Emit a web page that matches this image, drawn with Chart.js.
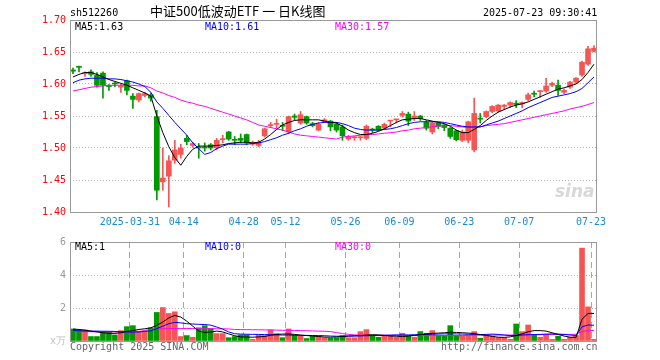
<!DOCTYPE html>
<html lang="zh">
<head>
<meta charset="utf-8">
<title>sh512260 日K线图</title>
<script src="https://cdn.jsdelivr.net/npm/chart.js@4.4.1/dist/chart.umd.min.js"></script>
<style>
  body { margin:0; background:#fff; }
  #wrap { position:relative; width:660px; height:360px; overflow:hidden; }
  canvas { position:absolute; left:0; }
  .t { position:absolute; white-space:pre; font-family:"DejaVu Sans Mono", monospace; font-size:10px; line-height:12px; }
</style>
<script>

// trading days shown
var dates = [
  '2025-03-17','2025-03-18','2025-03-19','2025-03-20','2025-03-21','2025-03-24','2025-03-25','2025-03-26','2025-03-27','2025-03-28',
  '2025-03-31','2025-04-01','2025-04-02','2025-04-03','2025-04-07','2025-04-08','2025-04-09','2025-04-10','2025-04-11','2025-04-14',
  '2025-04-15','2025-04-16','2025-04-17','2025-04-18','2025-04-21','2025-04-22','2025-04-23','2025-04-24','2025-04-25','2025-04-28',
  '2025-04-29','2025-04-30','2025-05-06','2025-05-07','2025-05-08','2025-05-09','2025-05-12','2025-05-13','2025-05-14','2025-05-15',
  '2025-05-16','2025-05-19','2025-05-20','2025-05-21','2025-05-22','2025-05-23','2025-05-26','2025-05-27','2025-05-28','2025-05-29',
  '2025-05-30','2025-06-03','2025-06-04','2025-06-05','2025-06-06','2025-06-09','2025-06-10','2025-06-11','2025-06-12','2025-06-13',
  '2025-06-16','2025-06-17','2025-06-18','2025-06-19','2025-06-20','2025-06-23','2025-06-24','2025-06-25','2025-06-26','2025-06-27',
  '2025-06-30','2025-07-01','2025-07-02','2025-07-03','2025-07-04','2025-07-07','2025-07-08','2025-07-09','2025-07-10','2025-07-11',
  '2025-07-14','2025-07-15','2025-07-16','2025-07-17','2025-07-18','2025-07-21','2025-07-22','2025-07-23'
];

var tickDates  = ['2025-03-31','2025-04-14','2025-04-28','2025-05-12','2025-05-26','2025-06-09','2025-06-23','2025-07-07','2025-07-23'];
var tickLabels = ['2025-03-31','04-14','04-28','05-12','05-26','06-09','06-23','07-07','07-23'];

var opens = [
  1.622,1.627,1.616,1.619,1.614,1.617,1.597,1.601,1.595,1.605,
  1.581,1.575,1.582,1.583,1.549,1.447,1.456,1.481,1.490,1.515,
  1.504,1.501,1.501,1.505,1.500,1.513,1.525,1.513,1.515,1.521,
  1.506,1.504,1.519,1.535,1.537,1.535,1.525,1.550,1.539,1.549,
  1.538,1.528,1.541,1.542,1.537,1.533,1.514,1.516,1.516,1.515,
  1.529,1.534,1.531,1.542,1.544,1.551,1.553,1.546,1.550,1.540,
  1.525,1.539,1.536,1.531,1.527,1.512,1.512,1.497,1.546,1.549,
  1.557,1.558,1.565,1.567,1.570,1.569,1.576,1.585,1.588,1.589,
  1.598,1.598,1.587,1.595,1.603,1.614,1.631,1.651
];
var highs = [
  1.625,1.628,1.619,1.622,1.618,1.619,1.599,1.603,1.600,1.606,
  1.585,1.586,1.587,1.586,1.559,1.500,1.488,1.512,1.506,1.520,
  1.509,1.507,1.508,1.507,1.515,1.520,1.526,1.518,1.522,1.522,
  1.511,1.512,1.531,1.540,1.545,1.540,1.550,1.553,1.557,1.550,
  1.540,1.540,1.546,1.543,1.540,1.536,1.520,1.518,1.518,1.536,
  1.531,1.535,1.539,1.543,1.545,1.557,1.556,1.557,1.551,1.543,
  1.541,1.540,1.538,1.532,1.528,1.528,1.542,1.578,1.554,1.558,
  1.566,1.568,1.568,1.572,1.574,1.572,1.586,1.589,1.590,1.609,
  1.603,1.606,1.592,1.604,1.610,1.636,1.659,1.660
];
var lows = [
  1.616,1.619,1.612,1.612,1.595,1.578,1.590,1.596,1.587,1.583,
  1.562,1.572,1.580,1.573,1.419,1.434,1.408,1.476,1.484,1.505,
  1.501,1.484,1.495,1.497,1.497,1.508,1.512,1.505,1.508,1.505,
  1.504,1.502,1.517,1.532,1.531,1.527,1.522,1.544,1.537,1.537,
  1.533,1.527,1.540,1.527,1.525,1.512,1.512,1.512,1.512,1.513,
  1.524,1.527,1.529,1.533,1.539,1.548,1.535,1.543,1.543,1.528,
  1.522,1.530,1.527,1.515,1.511,1.510,1.508,1.494,1.539,1.547,
  1.555,1.556,1.560,1.563,1.563,1.563,1.574,1.580,1.579,1.587,
  1.596,1.582,1.585,1.593,1.601,1.612,1.629,1.650
];
var closes = [
  1.620,1.626,1.617,1.615,1.598,1.598,1.596,1.600,1.596,1.590,
  1.576,1.585,1.585,1.578,1.434,1.453,1.480,1.497,1.500,1.510,
  1.507,1.500,1.500,1.500,1.512,1.514,1.514,1.512,1.512,1.508,
  1.508,1.508,1.530,1.536,1.538,1.534,1.549,1.548,1.552,1.539,
  1.535,1.537,1.544,1.533,1.528,1.519,1.518,1.517,1.517,1.534,
  1.528,1.528,1.537,1.543,1.545,1.554,1.542,1.550,1.546,1.531,
  1.539,1.534,1.532,1.518,1.513,1.525,1.541,1.554,1.545,1.557,
  1.565,1.567,1.567,1.571,1.568,1.571,1.583,1.584,1.589,1.597,
  1.601,1.590,1.590,1.603,1.609,1.634,1.655,1.656
];

// price moving averages
var ma5 = [
  1.611,1.615,1.618,1.618,1.615,1.611,1.607,1.604,1.601,1.598,
  1.594,1.590,1.586,1.581,1.550,1.524,1.502,1.485,1.473,1.487,
  1.498,1.503,1.503,1.503,1.504,1.505,1.507,1.508,1.509,1.509,
  1.508,1.509,1.514,1.521,1.529,1.536,1.540,1.543,1.544,1.544,
  1.544,1.544,1.542,1.540,1.539,1.534,1.528,1.524,1.521,1.521,
  1.523,1.526,1.530,1.535,1.540,1.544,1.545,1.546,1.546,1.544,
  1.542,1.540,1.538,1.534,1.528,1.524,1.524,1.529,1.535,1.543,
  1.550,1.556,1.560,1.564,1.567,1.569,1.572,1.576,1.580,1.584,
  1.588,1.592,1.594,1.597,1.600,1.607,1.618,1.631
];
var ma10 = [
  1.602,1.606,1.608,1.609,1.609,1.609,1.608,1.608,1.607,1.605,
  1.603,1.600,1.596,1.587,1.572,1.562,1.551,1.540,1.530,1.520,
  1.508,1.499,1.490,1.493,1.499,1.503,1.506,1.506,1.506,1.506,
  1.507,1.508,1.510,1.513,1.516,1.520,1.523,1.527,1.530,1.534,
  1.537,1.539,1.540,1.540,1.540,1.538,1.535,1.531,1.529,1.528,
  1.528,1.528,1.529,1.530,1.532,1.535,1.538,1.540,1.541,1.541,
  1.541,1.541,1.540,1.538,1.536,1.534,1.533,1.533,1.533,1.536,
  1.539,1.542,1.546,1.550,1.554,1.558,1.563,1.567,1.571,1.575,
  1.579,1.581,1.583,1.585,1.588,1.593,1.602,1.611
];
var ma30 = [
  1.589,1.591,1.593,1.595,1.596,1.597,1.598,1.598,1.598,1.598,
  1.598,1.597,1.597,1.594,1.589,1.586,1.582,1.579,1.575,1.572,
  1.570,1.567,1.565,1.562,1.559,1.556,1.553,1.550,1.547,1.544,
  1.540,1.536,1.534,1.532,1.530,1.528,1.525,1.522,1.520,1.519,
  1.518,1.517,1.516,1.515,1.514,1.517,1.518,1.519,1.520,1.521,
  1.521,1.522,1.523,1.524,1.525,1.527,1.528,1.530,1.531,1.532,
  1.533,1.534,1.535,1.535,1.534,1.533,1.532,1.532,1.533,1.535,
  1.536,1.537,1.538,1.540,1.542,1.544,1.546,1.548,1.550,1.552,
  1.554,1.556,1.558,1.561,1.563,1.565,1.568,1.571
];

// volume (x万)
var volumes = [
  0.73,0.67,0.67,0.27,0.27,0.53,0.53,0.37,0.63,0.87,
  0.93,0.60,0.60,0.80,1.73,2.03,1.67,1.77,0.27,0.33,
  0.23,0.80,0.93,0.75,0.45,0.45,0.20,0.27,0.37,0.37,
  0.10,0.37,0.33,0.67,0.45,0.20,0.73,0.37,0.30,0.15,
  0.30,0.30,0.20,0.17,0.20,0.33,0.20,0.20,0.57,0.69,
  0.33,0.23,0.33,0.33,0.23,0.47,0.33,0.23,0.57,0.47,
  0.63,0.33,0.33,0.93,0.33,0.29,0.37,0.57,0.17,0.33,
  0.29,0.20,0.20,0.10,1.03,0.57,0.97,0.37,0.23,0.37,
  0.10,0.29,0.10,0.23,0.33,5.63,2.07,0.10
];
var volMa5 = [
  0.72,0.70,0.66,0.60,0.55,0.50,0.47,0.46,0.50,0.58,
  0.63,0.70,0.74,0.80,0.95,1.15,1.40,1.55,1.45,1.20,
  0.90,0.60,0.52,0.55,0.60,0.55,0.43,0.32,0.25,0.24,
  0.23,0.25,0.27,0.35,0.40,0.42,0.43,0.40,0.36,0.33,
  0.31,0.27,0.24,0.23,0.25,0.27,0.30,0.32,0.33,0.36,
  0.38,0.37,0.34,0.30,0.29,0.27,0.30,0.34,0.38,0.42,
  0.46,0.48,0.50,0.53,0.52,0.50,0.48,0.45,0.39,0.34,
  0.28,0.23,0.22,0.25,0.33,0.43,0.56,0.63,0.63,0.60,
  0.50,0.40,0.30,0.23,0.22,1.32,1.67,1.67
];
var volMa10 = [
  0.63,0.62,0.61,0.60,0.60,0.59,0.59,0.58,0.56,0.55,
  0.54,0.55,0.58,0.62,0.75,0.90,1.05,1.13,1.10,1.05,
  1.03,1.01,1.00,0.96,0.85,0.72,0.55,0.44,0.42,0.41,
  0.40,0.40,0.39,0.38,0.37,0.36,0.36,0.35,0.34,0.34,
  0.33,0.33,0.32,0.30,0.29,0.29,0.30,0.30,0.31,0.32,
  0.33,0.34,0.35,0.36,0.37,0.37,0.37,0.38,0.39,0.40,
  0.41,0.42,0.43,0.43,0.43,0.42,0.41,0.40,0.39,0.40,
  0.42,0.40,0.36,0.33,0.34,0.36,0.38,0.39,0.40,0.42,
  0.43,0.42,0.40,0.36,0.33,0.86,0.97,0.95
];
var volMa30 = [
  0.57,0.57,0.57,0.56,0.56,0.55,0.55,0.55,0.54,0.54,
  0.54,0.56,0.64,0.70,0.73,0.74,0.75,0.76,0.76,0.76,
  0.76,0.75,0.75,0.75,0.74,0.74,0.73,0.70,0.69,0.69,
  0.68,0.68,0.67,0.67,0.66,0.65,0.65,0.64,0.63,0.62,
  0.61,0.60,0.59,0.57,0.51,0.45,0.40,0.37,0.36,0.35,
  0.35,0.34,0.34,0.34,0.34,0.34,0.33,0.33,0.33,0.33,
  0.33,0.33,0.33,0.33,0.33,0.33,0.34,0.35,0.35,0.35,
  0.36,0.36,0.36,0.36,0.37,0.37,0.38,0.38,0.38,0.39,
  0.39,0.39,0.40,0.40,0.41,0.58,0.63,0.63
];

var RED = '#f75555';
var GREEN = '#009a00';
var MONO = '"DejaVu Sans Mono", monospace';

var tickIdx = new Set(tickDates.map(function(d){ return dates.indexOf(d); }));

function gridX(c){ return tickIdx.has(c.index) ? '#a8a8a8' : 'rgba(0,0,0,0)'; }

// plot frame
var framePlugin = {
  id: 'frame',
  afterDatasetsDraw: function(chart){
    var a = chart.chartArea, ctx = chart.ctx;
    ctx.save();
    ctx.strokeStyle = '#999';
    ctx.lineWidth = 1;
    ctx.strokeRect(Math.round(a.left) + 0.5, Math.round(a.top) + 0.5,
                   Math.round(a.right - a.left) - 1, Math.round(a.bottom - a.top));
    ctx.restore();
  }
};

function line(data, color){
  return { type:'line', data:data, borderColor:color, borderWidth:1, pointRadius:0, tension:0, order:0 };
}

function go(){
  var colors = closes.map(function(c, i){ return c >= opens[i] ? RED : GREEN; });
  var bodies = opens.map(function(o, i){ return [o, closes[i]]; });
  var wicks = lows.map(function(l, i){ return [l, highs[i]]; });

  new Chart(document.getElementById('main'), {
    type: 'bar',
    data: {
      labels: dates,
      datasets: [
        line(ma5, '#000000'),
        line(ma10, '#0000ff'),
        line(ma30, '#ff00ff'),
        { data: wicks, backgroundColor: colors, barThickness: 1, grouped: false, minBarLength: 1, order: 2 },
        { data: bodies, backgroundColor: colors, barThickness: 5, grouped: false, minBarLength: 1, order: 1 }
      ]
    },
    options: {
      responsive: false, animation: false, devicePixelRatio: 1,
      layout: { padding: { left: 0, right: 63, top: 20, bottom: 0 } },
      plugins: { legend: { display: false }, tooltip: { enabled: false } },
      scales: {
        x: {
          offset: true,
          grid: { offset: true, color: gridX, drawTicks: false },
          border: { display: false, dash: [6, 4] },
          ticks: {
            autoSkip: false, maxRotation: 0, padding: 4, labelOffset: -3,
            color: '#1a8ad4', font: { family: MONO, size: 10 },
            callback: function(v, i){
              var k = tickDates.indexOf(dates[i]);
              return k < 0 ? null : tickLabels[k];
            }
          },
          afterFit: function(s){ s.height = 20; }
        },
        y: {
          min: 1.40, max: 1.70,
          grid: { color: '#b0b0b0', drawTicks: false },
          border: { display: false, dash: [1, 2] },
          ticks: { stepSize: 0.05, padding: 4, color: '#ff0000', font: { family: MONO, size: 10 },
                   callback: function(v){ return v.toFixed(2); } },
          afterFit: function(s){ s.width = 70; }
        }
      }
    },
    plugins: [framePlugin]
  });

  new Chart(document.getElementById('vol'), {
    type: 'bar',
    data: {
      labels: dates,
      datasets: [
        line(volMa5, '#000000'),
        line(volMa10, '#0000ff'),
        line(volMa30, '#ff00ff'),
        { data: volumes, backgroundColor: colors, barThickness: 5, order: 1 }
      ]
    },
    options: {
      responsive: false, animation: false, devicePixelRatio: 1,
      layout: { padding: { left: 0, right: 63, top: 8, bottom: 0 } },
      plugins: { legend: { display: false }, tooltip: { enabled: false } },
      scales: {
        x: {
          offset: true,
          grid: { offset: true, color: gridX, drawTicks: false },
          border: { display: false, dash: [6, 4] },
          ticks: { display: false },
          afterFit: function(s){ s.height = 19; }
        },
        y: {
          min: 0, max: 6,
          grid: { color: '#b0b0b0', drawTicks: false },
          border: { display: false, dash: [1, 2] },
          ticks: { stepSize: 2, padding: 4, font: { family: MONO, size: 10 },
                   color: function(c){ return c.tick && c.tick.value === 0 ? '#c0c0c0' : '#999999'; },
                   callback: function(v){ return v === 0 ? 'x万' : String(v); } },
          afterFit: function(s){ s.width = 70; }
        }
      }
    },
    plugins: [framePlugin]
  });
}
</script>
</head>
<body onload="go();">
<div id="wrap">
  <canvas id="main" width="660" height="232" style="top:0"></canvas>
  <canvas id="vol" width="660" height="128" style="top:232px"></canvas>

  <div class="t" style="left:70px;top:7px;color:#000">sh512260</div>
  <div class="t" style="left:150px;top:3px;font-family:'Noto Sans CJK SC',sans-serif;font-size:13px;line-height:16px;color:#000">中证500低波动ETF 一 日K线图</div>
  <div class="t" style="left:483px;top:7px;color:#000">2025-07-23 09:30:41</div>

  <div class="t" style="left:75px;top:21px;color:#000">MA5:1.63</div>
  <div class="t" style="left:205px;top:21px;color:#0000ff">MA10:1.61</div>
  <div class="t" style="left:335px;top:21px;color:#ff00ff">MA30:1.57</div>

  <div class="t" style="left:555px;top:181px;font-family:'DejaVu Sans',sans-serif;font-size:17px;line-height:20px;font-style:italic;font-weight:bold;color:#d8d8d8">sina</div>

  <div class="t" style="left:75px;top:241px;color:#000">MA5:1</div>
  <div class="t" style="left:205px;top:241px;color:#0000ff">MA10:0</div>
  <div class="t" style="left:335px;top:241px;color:#ff00ff">MA30:0</div>

  <div class="t" style="left:70px;top:341px;color:#666">Copyright 2025 SINA.COM</div>
  <div class="t" style="left:441px;top:341px;color:#666">http://finance.sina.com.cn</div>
</div>
</body>
</html>
